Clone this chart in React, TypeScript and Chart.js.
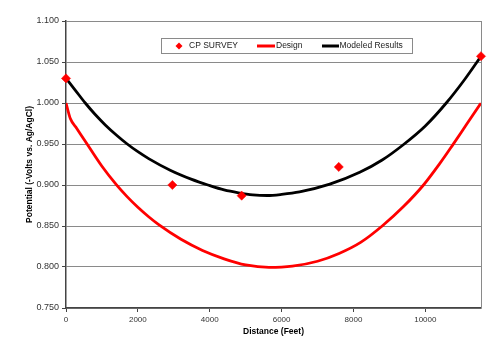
import React, { useEffect, useRef } from "react";
import { Chart, registerables } from "chart.js";

Chart.register(...registerables);

// ---- data ----
const seriesLabels = ["CP SURVEY", "Design", "Modeled Results"];

const surveyX = [0, 2961, 4889, 7592, 11550];
const surveyY = [1.03, 0.9, 0.887, 0.922, 1.057];

const designX = [0, 120, 300, 600, 1000, 1400, 1700, 2000, 2300, 2600, 3200, 3800, 4400, 5000, 5650, 6300, 7000, 7600, 8200, 8800, 9400, 9950, 10400, 10750, 11150, 11550];
const designY = [1.0, 0.981, 0.969, 0.949, 0.9228, 0.9004, 0.8858, 0.8728, 0.8613, 0.851, 0.8338, 0.8202, 0.81, 0.8025, 0.7995, 0.801, 0.807, 0.8165, 0.83, 0.85, 0.874, 0.9, 0.926, 0.948, 0.974, 1.0];

const modelX = [0, 250, 536, 800, 1100, 1400, 1704, 2000, 2300, 2900, 3500, 3950, 4400, 4800, 5200, 5600, 6000, 6500, 7342, 8175, 8800, 9378, 10000, 10583, 11100, 11550];
const modelY = [1.03, 1.0161, 1.0, 0.9866, 0.973, 0.961, 0.95, 0.9406, 0.9322, 0.918, 0.9068, 0.9, 0.894, 0.8905, 0.888, 0.8872, 0.8885, 0.8915, 0.901, 0.9155, 0.9305, 0.9488, 0.972, 1.0, 1.029, 1.057];

const xTicks = [0, 2000, 4000, 6000, 8000, 10000];
const yTicks = [0.75, 0.8, 0.85, 0.9, 0.95, 1.0, 1.05, 1.1];
const xMax = 11550;

const xTitle = "Distance (Feet)";
const yTitle = "Potential (-Volts vs. Ag/AgCl)";

const FONT = '"Liberation Sans", Arial, sans-serif';

const zip = (xs: number[], ys: number[]) => xs.map((x, i) => ({ x, y: ys[i] }));

const frameAndLegend = {
  id: "frameAndLegend",
  beforeDatasetsDraw(chart: any) {
    const { ctx, chartArea } = chart;
    ctx.save();
    ctx.strokeStyle = "#8a8a8a";
    ctx.lineWidth = 1;
    ctx.beginPath();
    const rx = Math.round(chartArea.right) + 0.5;
    ctx.moveTo(rx, chartArea.top);
    ctx.lineTo(rx, chartArea.bottom);
    ctx.stroke();
    ctx.restore();
  },
  afterDatasetsDraw(chart: any) {
    const { ctx } = chart;
    const ds = chart.data.datasets;
    ctx.save();
    const x0 = 161, y0 = 38, w = 251, h = 15;
    ctx.fillStyle = "#ffffff";
    ctx.fillRect(x0, y0, w, h);
    ctx.strokeStyle = "#8a8a8a";
    ctx.lineWidth = 1;
    ctx.strokeRect(x0 + 0.5, y0 + 0.5, w, h);
    const cy = y0 + 8;
    ctx.font = `8.5px ${FONT}`;
    ctx.textBaseline = "middle";
    ctx.textAlign = "left";
    const r = 3.5;
    const dx = 179;
    ctx.beginPath();
    ctx.moveTo(dx, cy - r);
    ctx.lineTo(dx + r, cy);
    ctx.lineTo(dx, cy + r);
    ctx.lineTo(dx - r, cy);
    ctx.closePath();
    ctx.fillStyle = ds[0].backgroundColor;
    ctx.fill();
    ctx.fillStyle = "#222";
    ctx.fillText(ds[0].label, 189, cy);
    ctx.strokeStyle = ds[1].borderColor;
    ctx.lineWidth = 3;
    ctx.beginPath();
    ctx.moveTo(257, cy);
    ctx.lineTo(275, cy);
    ctx.stroke();
    ctx.fillText(ds[1].label, 276, cy);
    ctx.strokeStyle = ds[2].borderColor;
    ctx.beginPath();
    ctx.moveTo(322, cy);
    ctx.lineTo(339, cy);
    ctx.stroke();
    ctx.fillText(ds[2].label, 339.5, cy);
    ctx.restore();
  },
};

export default function App() {
  const ref = useRef<HTMLCanvasElement | null>(null);

  useEffect(() => {
    document.body.style.margin = "0";
    const canvas = ref.current;
    if (!canvas) return;
    const chart = new Chart(canvas, {
      type: "line",
      data: {
        datasets: [
          {
            label: seriesLabels[0],
            data: zip(surveyX, surveyY),
            showLine: false,
            pointStyle: "rectRot",
            pointRadius: 4.6,
            pointBorderWidth: 0.5,
            backgroundColor: "#ff0000",
            borderColor: "#ff0000",
            clip: false,
          },
          {
            label: seriesLabels[1],
            data: zip(designX, designY),
            borderColor: "#ff0000",
            backgroundColor: "#ff0000",
            borderWidth: 2.8,
            pointRadius: 0,
            cubicInterpolationMode: "monotone",
            fill: false,
          },
          {
            label: seriesLabels[2],
            data: zip(modelX, modelY),
            borderColor: "#000000",
            backgroundColor: "#000000",
            borderWidth: 2.8,
            pointRadius: 0,
            cubicInterpolationMode: "monotone",
            fill: false,
          },
        ],
      },
      options: {
        responsive: false,
        animation: false,
        devicePixelRatio: 1,
        layout: { padding: { top: 21, right: 19, left: 0, bottom: 0 } },
        plugins: { legend: { display: false }, tooltip: { enabled: false } },
        scales: {
          x: {
            type: "linear",
            min: 0,
            max: xMax,
            afterBuildTicks: (s: any) => {
              s.ticks = xTicks.map((v) => ({ value: v }));
            },
            afterFit: (s: any) => {
              s.height = 38;
            },
            ticks: {
              padding: 3,
              color: "#333",
              font: { family: FONT, size: 8 },
              maxRotation: 0,
              callback: (v: any) => String(v),
            },
            grid: {
              drawOnChartArea: false,
              drawTicks: true,
              tickLength: 4,
              tickColor: "#444",
            },
            border: { color: "#444", width: 1.5 },
            title: {
              display: true,
              text: xTitle,
              color: "#000",
              font: { family: FONT, size: 8.5, weight: "bold", lineHeight: 1.2 },
              padding: { top: 0, bottom: 9.2 },
            },
          },
          y: {
            type: "linear",
            min: 0.75,
            max: 1.1,
            afterBuildTicks: (s: any) => {
              s.ticks = yTicks.map((v) => ({ value: v }));
            },
            afterFit: (s: any) => {
              s.width = 66;
            },
            ticks: {
              padding: 3,
              color: "#333",
              font: { family: FONT, size: 9 },
              callback: (v: any) => Number(v).toFixed(3),
            },
            grid: {
              color: "#8a8a8a",
              lineWidth: 1,
              tickLength: 4,
              tickColor: "#444",
            },
            border: { color: "#444", width: 1.5 },
            title: {
              display: true,
              text: yTitle,
              color: "#000",
              font: { family: FONT, size: 8.5, weight: "bold", lineHeight: 1.2 },
              padding: { top: 24.4, bottom: 0 },
            },
          },
        },
      },
      plugins: [frameAndLegend],
    } as any);
    return () => chart.destroy();
  }, []);

  return (
    <div style={{ width: 500, height: 346, background: "#fff" }}>
      <canvas ref={ref} width={500} height={346} style={{ display: "block" }} />
    </div>
  );
}
